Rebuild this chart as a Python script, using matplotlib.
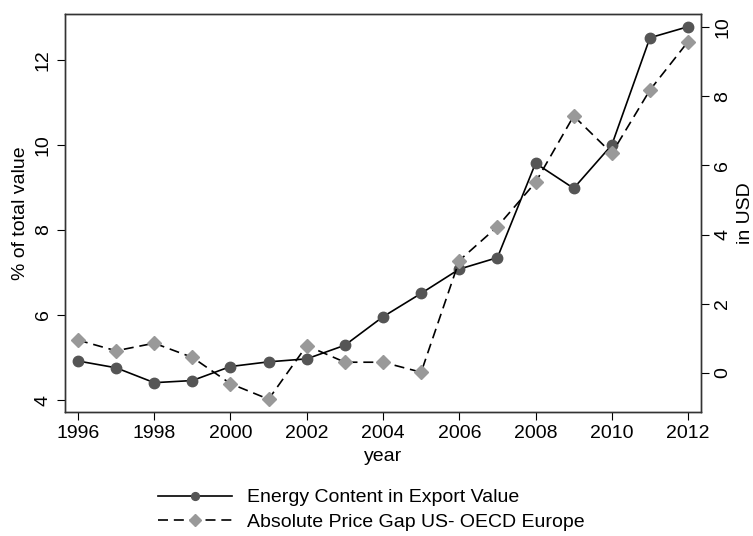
import matplotlib.pyplot as plt
import numpy as np

plt.rcParams['font.family'] = ['Liberation Sans', 'DejaVu Sans']

years = np.arange(1996, 2013)
energy = [4.92, 4.76, 4.41, 4.46, 4.79, 4.90, 4.97, 5.29, 5.96, 6.51,
          7.08, 7.35, 9.57, 8.98, 10.0, 12.52, 12.78]
price_gap = [0.95, 0.64, 0.86, 0.45, -0.31, -0.76, 0.79, 0.31, 0.31, 0.02,
             3.25, 4.23, 5.51, 7.43, 6.35, 8.18, 9.58]
x_ticks = [1996, 1998, 2000, 2002, 2004, 2006, 2008, 2010, 2012]
left_ticks = [4, 6, 8, 10, 12]
right_ticks = [0, 2, 4, 6, 8, 10]

fig = plt.figure(figsize=(7.53, 5.36), dpi=100)
ax = fig.add_axes([0.0863, 0.2313, 0.8447, 0.7427])
ax2 = ax.twinx()

l1, = ax.plot(years, energy, '-', color='black', lw=1.2, marker='o',
              markersize=7.5, markerfacecolor='#555555', markeredgecolor='#555555',
              label='Energy Content in Export Value', zorder=3)
l2, = ax2.plot(years, price_gap, '--', color='black', lw=1.2, dashes=(6, 3.5),
               marker='D', markersize=7.5, markerfacecolor='#999999',
               markeredgecolor='#999999', label='Absolute Price Gap US- OECD Europe')

ax.set_xlim(1995.66, 2012.34)
ax.set_ylim(3.72, 13.08)
ax2.set_ylim(-1.13, 10.38)
ax.set_xticks(x_ticks)
ax.set_yticks(left_ticks)
ax2.set_yticks(right_ticks)

fs = 14
ax.tick_params(axis='x', labelsize=fs, length=6, direction='out')
ax.tick_params(axis='y', labelsize=fs, length=6, direction='out', labelrotation=90)
ax2.tick_params(axis='y', labelsize=fs, length=6, direction='out', labelrotation=90)
for lab in ax.get_yticklabels():
    lab.set_va('center')
for lab in ax2.get_yticklabels():
    lab.set_va('center')

ax.set_xlabel('year', fontsize=fs, labelpad=4)
ax.set_ylabel('% of total value', fontsize=fs, labelpad=4)
ax2.set_ylabel('in USD', fontsize=fs, labelpad=4)

for a in (ax, ax2):
    for s in a.spines.values():
        s.set_color('#333333')
        s.set_linewidth(1.0)

fig.legend(handles=[l1, l2], loc='upper left', bbox_to_anchor=(0.21, 0.088),
           frameon=False, fontsize=fs, handlelength=3.8, handletextpad=0.75,
           labelspacing=0.35, borderaxespad=0, borderpad=0, markerscale=0.75)

fig.savefig('out.png', dpi=100)
